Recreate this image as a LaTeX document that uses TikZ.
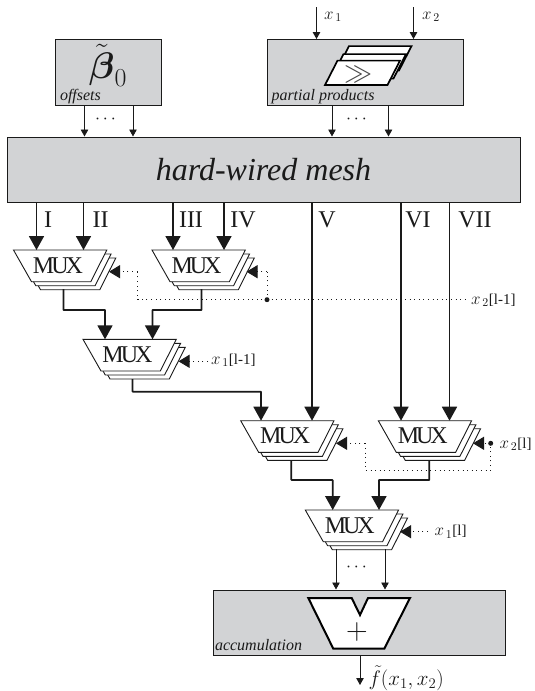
\documentclass[tikz,border=0pt]{standalone}
\usepackage{fix-cm}
\usepackage{amsmath,amsbsy}
\usepackage[no-math]{fontspec}
\setmainfont{Liberation Serif}
\usetikzlibrary{arrows.meta,calc}
\definecolor{boxgray}{HTML}{D2D3D5}
\definecolor{ink}{HTML}{1A1A1A}
\newcommand{\fsz}[1]{\fontsize{#1}{#1}\selectfont}
\tikzset{
  x=1pt,y=-1pt,
  graybox/.style={draw=ink,fill=boxgray,line width=1pt},
  thinarrow/.style={draw=ink,line width=0.9pt,-{Triangle[width=7.5pt,length=7pt]},shorten >=0pt},
  thickarrow/.style={draw=ink,line width=1.8pt,-{Triangle[width=15pt,length=14pt]}},
  selarrow/.style={draw=ink,line width=0.9pt,dash pattern=on 1pt off 3.6pt,-{Triangle[width=13pt,length=11pt,fill=ink]}},
  dotline/.style={draw=ink,line width=0.9pt,dash pattern=on 1pt off 3.6pt},
  muxlayer/.style={draw=ink,fill=white,line width=0.9pt},
  lbl/.style={inner sep=0pt,outer sep=0pt,text=ink},
  roman/.style={lbl,font=\fsz{24}},
  small/.style={lbl,font=\fsz{16}\itshape,anchor=west},
  sel/.style={lbl,font=\fsz{17},anchor=west},
  shiftp/.style={draw=black,fill=white,line width=1.7pt,line join=miter},
  junct/.style={circle,fill=ink,inner sep=0pt,minimum size=5pt},
  cdotsl/.style={lbl,font=\fsz{18}},
}
\newcommand{\muxblock}[3]{%
  \foreach \o/\p in {9/8,4.3/4,0/0}{
    \path[muxlayer] ($(#2,#3)+(\o,\p)$) -- ++(93.3,0) -- ++(-16,31.7) -- ++(-59.3,0) -- cycle;
  }
  \node[lbl,font=\fsz{24}] (#1) at (#2+44.5,#3+15.5) {M\kern-3pt U\kern-3pt X};
  \coordinate (#1-top) at (#2,#3);
}
\begin{document}
\begin{tikzpicture}
\useasboundingbox (0,0) rectangle (535,691);
\fill[white] (0,0) rectangle (535,691);
% dotted select lines (behind)
\coordinate (ja) at (267,299.7);
\coordinate (jb) at (490.7,443.3);
\coordinate (a1) at (137.5,271.7);
\coordinate (a2) at (267,271.7);
\coordinate (t1) at (109,271.7);
\coordinate (t2) at (246.5,271.7);
\coordinate (la) at (467,299.7);
\coordinate (tc) at (178.5,361.3);
\coordinate (lc) at (208,361.3);
\coordinate (td) at (336,443.3);
\coordinate (b1) at (365,443.3);
\coordinate (b2) at (365,470);
\coordinate (b3) at (490.7,470);
\coordinate (te) at (473,443.3);
\coordinate (tf) at (400,531.7);
\coordinate (lf) at (428,531.7);
\draw[dotline] (ja) -- (a1 |- ja) -- (a1);
\draw[dotline] (ja) -- (la);
\draw[dotline] (ja) -- (a2);
\draw[dotline] (b1) -- (b2) -- (b3) -- (jb);
% boxes
\node[graybox,minimum width=106pt,minimum height=65.5pt,inner sep=0pt] (off) at (108.5,72.3) {};
\node[graybox,minimum width=196pt,minimum height=65.5pt,inner sep=0pt] (pp) at (365,72.3) {};
\node[graybox,minimum width=513pt,minimum height=65pt,inner sep=0pt] (mesh) at (263.5,169.5) {};
\node[graybox,minimum width=292pt,minimum height=65pt,inner sep=0pt] (acc) at (359,622.5) {};
\node[lbl,font=\fsz{32}\itshape] (meshlbl) at (263.5,170) {hard-wired mesh};
\node[lbl,font=\fsz{37}] (beta) at (108,65.5) {$\tilde{\boldsymbol{\beta}}_0$};
\node[small] (offl) at (60,96.5) {offsets};
\node[small] (ppl) at (271.5,96.5) {partial products};
\node[small] (accl) at (215,645.5) {accumulation};
% shift icon
\path[shiftp] (336.5,70.5) -- ++(62.5,0) -- ++(12.5,-24.4) -- ++(-62.5,0) -- cycle;
\path[shiftp] (331,78.5) -- ++(62.5,0) -- ++(12.5,-24.4) -- ++(-62.5,0) -- cycle;
\path[shiftp] (325,85) -- ++(62.5,0) -- ++(12.5,-24.4) -- ++(-62.5,0) -- cycle;
\node[lbl,font=\fsz{28},text=ink!80] (gg) at (358,74) {$\gg$};
% input arrows
\coordinate (x1s) at (316.5,7);
\coordinate (x2s) at (413.5,7);
\draw[thinarrow] (x1s) -- (x1s |- pp.north);
\draw[thinarrow] (x2s) -- (x2s |- pp.north);
\node[sel] (x1l) at (324,17) {$x_{\,1}$};
\node[sel] (x2l) at (422,17) {$x_{\,2}$};
\foreach \x in {84.5,133}{\draw[thinarrow] (\x,0 |- off.south) -- (\x,0 |- mesh.north);}
\foreach \x in {332,388.5}{\draw[thinarrow] (\x,0 |- pp.south) -- (\x,0 |- mesh.north);}
\node[cdotsl] (d1) at (107,119) {$\cdots$};
\node[cdotsl] (d2) at (358,119) {$\cdots$};
% MUXes
\muxblock{ma}{13.5}{250}
\muxblock{mb}{152}{250}
\muxblock{mc}{83}{339.3}
\muxblock{md}{240.7}{420.7}
\muxblock{me}{378.3}{420.7}
\muxblock{mf}{305.3}{510}
% mesh outputs
\draw[thickarrow] (36.5,0 |- mesh.south) -- (36.5,0 |- ma-top);
\draw[thickarrow] (83.5,0 |- mesh.south) -- (83.5,0 |- ma-top);
\draw[thickarrow] (173,0 |- mesh.south) -- (173,0 |- mb-top);
\draw[thickarrow] (224,0 |- mesh.south) -- (224,0 |- mb-top);
\draw[thickarrow] (312,0 |- mesh.south) -- (312,0 |- md-top);
\draw[thickarrow] (401,0 |- mesh.south) -- (401,0 |- me-top);
\draw[thickarrow] (449.5,0 |- mesh.south) -- (449.5,0 |- me-top);
\node[roman] (rI) at (48,220) {I};
\node[roman] (rII) at (100.5,220) {II};
\node[roman] (rIII) at (191,220) {III};
\node[roman] (rIV) at (243,220) {IV};
\node[roman] (rV) at (327,220) {V};
\node[roman] (rVI) at (418,220) {VI};
\node[roman] (rVII) at (475,220) {VII};
% thick internal connectors
\draw[thickarrow,rounded corners=0.5pt] (63.5,289) -- (63.5,310) -- (105,310) -- (105,0 |- mc-top);
\draw[thickarrow,rounded corners=0.5pt] (201.5,289) -- (201.5,310) -- (152.5,310) -- (152.5,0 |- mc-top);
\draw[thickarrow,rounded corners=0.5pt] (132.5,379) -- (132.5,391.7) -- (261,391.7) -- (261,0 |- md-top);
\draw[thickarrow,rounded corners=0.5pt] (291.3,460.5) -- (291.3,480) -- (332.7,480) -- (332.7,0 |- mf-top);
\draw[thickarrow,rounded corners=0.5pt] (429.3,460.5) -- (429.3,480) -- (379,480) -- (379,0 |- mf-top);
% select arrows
\draw[selarrow] (a1) -- (t1);
\draw[selarrow] (a2) -- (t2);
\node[junct] (jaN) at (ja) {};
\node[sel] (lal) at (471,300.5) {$x_{\,2}$\fsz{15}[l-1]};
\draw[selarrow] (lc) -- (tc);
\node[sel] (lcl) at (211,360.5) {$x_{\,1}$\fsz{15}[l-1]};
\draw[selarrow] (b1) -- (td);
\draw[selarrow] (jb) -- (te);
\node[junct] (jbN) at (jb) {};
\node[sel] (lel) at (499.5,444.5) {$x_{\,2}$\fsz{15}[l]};
\draw[selarrow] (lf) -- (tf);
\node[sel] (lfl) at (434.5,532) {$x_{\,1}$\fsz{15}[l]};
% to accumulator
\draw[thinarrow] (336,549) -- (336,0 |- acc.north);
\draw[thinarrow] (385,549) -- (385,0 |- acc.north);
\node[cdotsl] (d3) at (358,567) {$\cdots$};
% adder
\path[draw=black,fill=white,line width=2pt] (308.3,598) -- (351.7,598) -- (360,615) -- (368,598) -- (410,598) -- (384.3,648.7) -- (333.3,648.7) -- cycle;
\node[lbl,font=\fsz{30}] (plus) at (357,631.5) {$+$};
% output
\coordinate (outp) at (360,685);
\draw[thinarrow] (360,0 |- acc.south) -- (outp);
\node[sel] (outl) at (368.5,678) {\fsz{21}$\tilde f(x_1,x_2)$};
\end{tikzpicture}
\end{document}
